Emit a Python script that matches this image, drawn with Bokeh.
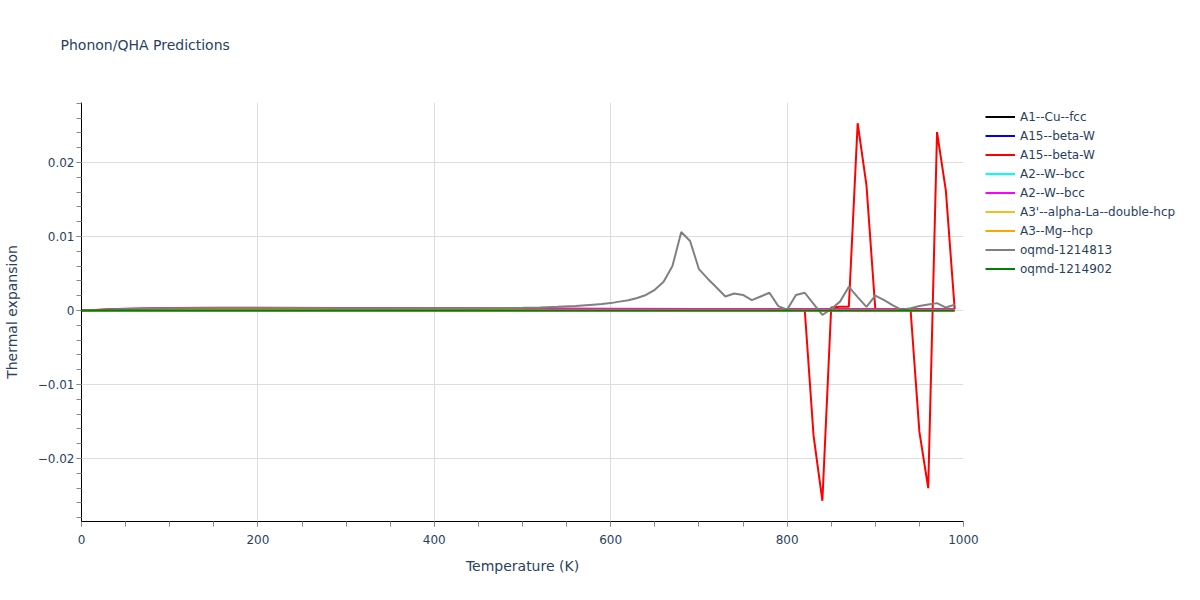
from bokeh.plotting import figure
from bokeh.models import (Legend, LegendItem, Title, CustomJSTickFormatter,
                          FixedTicker, Range1d)
from bokeh.embed import file_html
from bokeh.resources import INLINE

# ---------------- data ----------------
names = ["A1--Cu--fcc", "A15--beta-W", "A15--beta-W", "A2--W--bcc", "A2--W--bcc",
         "A3'--alpha-La--double-hcp", "A3--Mg--hcp", "oqmd-1214813", "oqmd-1214902"]
colors = ["black", "blue", "red", "cyan", "magenta", "#f0c020", "orange", "gray", "green"]

t_flat = [0, 50, 100, 200, 300, 400, 500, 600, 700, 800, 900, 990]
black_vals = [0, 0.00003, 0.00004, 0.00005, 0.00005, 0.00005, 0.00005, 0.00005, 0.00005, 0.00005, 0.00005, 0.00005]
blue_vals = [0, 0.00002, 0.00003, 0.00004, 0.00004, 0.00004, 0.00004, 0.00004, 0.00004, 0.00004, 0.00004, 0.00004]
cyan_vals = [0, 0.00004, 0.00006, 0.00007, 0.00007, 0.00007, 0.00007, 0.00007, 0.00007, 0.00007, 0.00007, 0.00007]
gold_vals = [0, 0.00002, 0.00003, 0.00003, 0.00003, 0.00003, 0.00003, 0.00003, 0.00003, 0.00003, 0.00003, 0.00003]
orange_vals = [0, 0.00003, 0.00004, 0.00004, 0.00004, 0.00004, 0.00004, 0.00004, 0.00004, 0.00004, 0.00004, 0.00004]
green_vals = [0, 0.00001, 0.00001, 0.00001, 0.00001, 0.00001, 0.00001, 0.00001, 0.00001, 0.00001, 0.00001, 0.00001]

t_red = [0, 10, 20, 30, 50, 100, 150, 200, 300, 400, 500, 600, 700, 800, 810, 820, 830, 840,
         850, 860, 870, 880, 890, 900, 910, 920, 930, 940, 950, 960, 970, 980, 990]
red_vals = [0, 0.00003, 0.0001, 0.00016, 0.00025, 0.00033, 0.00037, 0.00038, 0.00034, 0.0003,
            0.00026, 0.00022, 0.00018, 0.00015, 0.00015, 0.0001, -0.0169, -0.0257,
            0.0004, 0.0005, 0.0005, 0.0253, 0.0169, 0.0002, 0.0001, 0.0001, 0.0001, 0.0001,
            -0.0164, -0.0240, 0.0241, 0.0162, 0.0002]

t_magenta = [0, 10, 20, 30, 40, 50, 75, 100, 150, 200, 300, 400, 500, 600, 700, 800, 900, 990]
magenta_vals = [0, 0.00002, 0.00007, 0.00012, 0.00016, 0.00019, 0.00024, 0.00026, 0.00027,
                0.00027, 0.00026, 0.00025, 0.00024, 0.00023, 0.00022, 0.00021, 0.0002, 0.0002]

t_gray = [0, 10, 20, 30, 50, 75, 100, 150, 200, 250, 300, 350, 400, 450, 500, 520, 540, 560,
          580, 590, 600, 610, 620, 630, 640, 650, 660, 670, 680, 690, 700, 710, 720, 730,
          740, 750, 760, 770, 780, 790, 800, 810, 820, 830, 840, 850, 860, 870, 880, 890,
          900, 910, 920, 930, 940, 950, 960, 970, 980, 990]
gray_vals = [0, 0.00002, 0.00008, 0.00014, 0.00022, 0.00027, 0.0003, 0.00033, 0.00034, 0.00033,
             0.00032, 0.0003, 0.00029, 0.0003, 0.00036, 0.00042, 0.0005, 0.0006, 0.00078,
             0.00087, 0.001, 0.0012, 0.0014, 0.0017, 0.0021, 0.0028, 0.0039, 0.006, 0.0106,
             0.0094, 0.0056, 0.0043, 0.0031, 0.0019, 0.0023, 0.0021, 0.0014, 0.0019, 0.0024,
             0.0006, 0.0001, 0.0021, 0.0024, 0.0009, -0.0006, 0.0002, 0.0012, 0.0032, 0.0018,
             0.0005, 0.002, 0.0014, 0.0007, 0.0001, 0.0003, 0.0006, 0.0008, 0.001, 0.0004, 0.0008]

series_t = [t_flat, t_flat, t_red, t_flat, t_magenta, t_flat, t_flat, t_gray, t_flat]
series_v = [black_vals, blue_vals, red_vals, cyan_vals, magenta_vals, gold_vals, orange_vals,
            gray_vals, green_vals]

x_ticks = [0, 200, 400, 600, 800, 1000]
y_ticks = [-0.02, -0.01, 0, 0.01, 0.02]

# ---------------- figure ----------------
FONT = "DejaVu Sans"
TXT = "#2a3f5f"

p = figure(frame_width=882, frame_height=419, output_backend="svg", toolbar_location=None,
           x_range=Range1d(0, 1000), y_range=Range1d(-0.0285, 0.0281),
           min_border_left=81, min_border_right=10, min_border_top=100, min_border_bottom=73,
           background_fill_color="white", border_fill_color="white", title=None)
p.outline_line_color = None

renderers = []
for t, v, c in zip(series_t, series_v, colors):
    r = p.line(t, v, line_color=c, line_width=2)
    renderers.append(r)

# grid
p.xgrid.grid_line_color = "#dddddd"
p.ygrid.grid_line_color = "#dddddd"
p.xgrid.ticker = FixedTicker(ticks=x_ticks)
p.ygrid.ticker = FixedTicker(ticks=y_ticks)

# axes
xa = p.xaxis[0]
xa.ticker = FixedTicker(ticks=x_ticks, minor_ticks=[i * 50 for i in range(21)])
xa.axis_line_color = "black"
xa.axis_line_width = 1
xa.major_tick_out = 5
xa.major_tick_in = 0
xa.minor_tick_out = 5
xa.minor_tick_in = 0
xa.major_tick_line_color = "#888888"
xa.minor_tick_line_color = "#888888"
xa.major_label_text_font = FONT
xa.major_label_text_font_size = "12px"
xa.major_label_text_color = TXT
xa.major_label_standoff = 8
xa.axis_label = "Temperature (K)"
xa.axis_label_text_font = FONT
xa.axis_label_text_font_size = "14px"
xa.axis_label_text_font_style = "normal"
xa.axis_label_text_color = TXT
xa.axis_label_standoff = 11

ya = p.yaxis[0]
ya.ticker = FixedTicker(ticks=y_ticks, minor_ticks=[round(-0.028 + 0.002 * i, 3) for i in range(29)])
ya.axis_line_color = "black"
ya.axis_line_width = 1
ya.major_tick_out = 5
ya.major_tick_in = 0
ya.minor_tick_out = 5
ya.minor_tick_in = 0
ya.major_tick_line_color = "#888888"
ya.minor_tick_line_color = "#888888"
ya.major_label_text_font = FONT
ya.major_label_text_font_size = "12px"
ya.major_label_text_color = TXT
ya.major_label_standoff = 2
ya.formatter = CustomJSTickFormatter(code="""
    if (Math.abs(tick) < 1e-12) { return "0"; }
    return tick.toFixed(2).replace("-", "\u2212");
""")
ya.axis_label = "Thermal expansion"
ya.axis_label_text_font = FONT
ya.axis_label_text_font_size = "14px"
ya.axis_label_text_font_style = "normal"
ya.axis_label_text_color = TXT
ya.axis_label_standoff = 15

# legend
items = [LegendItem(label=n, renderers=[r]) for n, r in zip(names, renderers)]
legend = Legend(items=items, location=(22, 243), orientation="vertical")
legend.border_line_color = None
legend.background_fill_alpha = 0
legend.padding = 0
legend.margin = 0
legend.spacing = 0
legend.glyph_width = 30
legend.glyph_height = 19
legend.label_height = 19
legend.label_standoff = 5
legend.label_text_font = FONT
legend.label_text_font_size = "12px"
legend.label_text_color = TXT
p.add_layout(legend, "right")

# spacer panel next to the frame, then the real title above it
spacer = Title(text=" ", standoff=13, text_font=FONT, text_font_size="1px",
               text_color="white")
p.add_layout(spacer, "above")
title = Title(text="Phonon/QHA Predictions", align="left", offset=-21, standoff=68,
              text_font=FONT, text_font_size="14px", text_font_style="normal",
              text_color=TXT)
p.add_layout(title, "above")

open("out.html", "w").write(file_html(p, INLINE))
